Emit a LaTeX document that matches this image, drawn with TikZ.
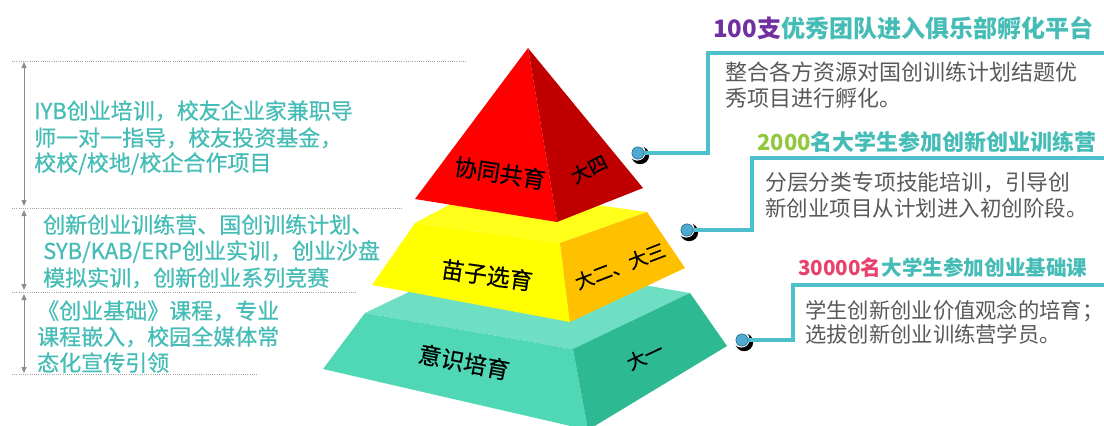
\documentclass[tikz,border=0pt]{standalone}
\usepackage{fontspec}
\setmainfont{Noto Sans CJK SC}
\newfontfamily\medfont[FakeBold=0.6]{Noto Sans CJK SC}
\newfontfamily\lblfont[FakeBold=0.4]{Noto Sans CJK SC}
\usetikzlibrary{arrows.meta}
\definecolor{tealtxt}{HTML}{45BDB6}
\definecolor{linecol}{HTML}{4EC0CB}
\definecolor{bodygray}{HTML}{595959}
\definecolor{purp}{HTML}{7030A0}
\definecolor{lgreen}{HTML}{92C83E}
\definecolor{pinkc}{HTML}{E9416E}
\definecolor{redL}{HTML}{FF0000}
\definecolor{redR}{HTML}{C00000}
\definecolor{yelF}{HTML}{FFFF00}
\definecolor{yelT}{HTML}{FFFF1A}
\definecolor{yelR}{HTML}{FFC000}
\definecolor{grT}{HTML}{6FDFC3}
\definecolor{grF}{HTML}{50D8B6}
\definecolor{grR}{HTML}{2DB991}
\definecolor{dotblue}{HTML}{4DAAD3}
\definecolor{arrgray}{HTML}{8C8C8C}
\newcommand\myfs[1]{\fontsize{#1}{#1}\selectfont}
\tikzset{
  lefttxt/.style={anchor=base west, inner sep=0pt, text=tealtxt, font=\medfont\myfs{22}},
  bodytxt/.style={anchor=base west, inner sep=0pt, text=bodygray, font=\myfs{22}},
  titletxt/.style={anchor=base west, inner sep=0pt, text=tealtxt, font=\myfs{22}\bfseries},
  pyrlbl/.style={inner sep=0pt, text=black, font=\lblfont\myfs{23}},
  yearlbl/.style={inner sep=0pt, text=black, font=\lblfont\myfs{19}},
  dotline/.style={draw=arrgray!80, line width=1pt, dash pattern=on 1pt off 1.2pt},
  spanarrow/.style={draw=arrgray, line width=1pt, {Triangle[length=6pt,width=5pt]}-{Triangle[length=6pt,width=5pt]}},
  conn/.style={draw=linecol, line width=4pt},
  dotc/.style={circle, fill=dotblue, draw=dotblue!70!black, line width=0.6pt, minimum size=12pt, inner sep=0pt},
}
\begin{document}
\begin{tikzpicture}[x=1pt,y=-1pt]
\useasboundingbox (0,0) rectangle (1104,426);
\fill[white] (0,0) rectangle (1104,426);
\begin{scope}
\clip (0,0) rectangle (1104,426);
% green layer
\fill[grT] (365,313) -- (573,349) -- (690,293) -- (482,257) -- cycle;
\fill[grF] (365,313) -- (573,349) -- (588,430) -- (323,369) -- cycle;
\fill[grR] (573,349) -- (690,293) -- (727,346) -- (588,430) -- cycle;
% yellow layer
\fill[yelT] (415,223) -- (560,243) -- (647,212) -- (479,189) -- cycle;
\fill[yelF] (415,223) -- (560,243) -- (570,322) -- (372,285) -- cycle;
\fill[yelR] (560,243) -- (647,212) -- (685,268) -- (570,322) -- cycle;
% red top
\fill[redL] (528,48) -- (415,199) -- (557,222) -- cycle;
\fill[redR] (528,48) -- (557,222) -- (643,188) -- cycle;
\end{scope}

% pyramid labels
\node[pyrlbl, rotate=-9] (l4) at (500,173) {协同共育};
\node[yearlbl, rotate=27] (y4) at (589,169) {大四};
\node[pyrlbl, rotate=-8] (l23) at (487,275) {苗子选育};
\node[yearlbl, rotate=21] (y23) at (620,266) {大二、大三};
\node[pyrlbl, rotate=-11] (l1) at (464,362) {意识培育};
\node[yearlbl, rotate=25] (y1) at (645,356) {大一};

% left dotted lines
\coordinate (d1a) at (12,61);  \coordinate (d1b) at (467,61);
\coordinate (d2a) at (12,208); \coordinate (d2b) at (402,208);
\coordinate (d3a) at (12,292); \coordinate (d3b) at (357,292);
\coordinate (d4a) at (12,374); \coordinate (d4b) at (258,374);
\draw[dotline] (d1a) -- (d1b);
\draw[dotline] (d2a) -- (d2b);
\draw[dotline] (d3a) -- (d3b);
\draw[dotline] (d4a) -- (d4b);
\coordinate (a1t) at (24,62);  \coordinate (a1b) at (24,206);
\coordinate (a2t) at (24,210); \coordinate (a2b) at (24,290);
\coordinate (a3t) at (24,294); \coordinate (a3b) at (24,373);
\draw[spanarrow] (a1t) -- (a1b);
\draw[spanarrow] (a2t) -- (a2b);
\draw[spanarrow] (a3t) -- (a3b);

% left texts
\node[lefttxt] (t11) at (34,119) {IYB创业培训，校友企业家兼职导};
\node[lefttxt] (t12) at (34,146) {师一对一指导，校友投资基金，};
\node[lefttxt] (t13) at (34,171) {校校/校地/校企合作项目};
\node[lefttxt] (t21) at (43,233) {创新创业训练营、国创训练计划、};
\node[lefttxt] (t22) at (43,259) {SYB/KAB/ERP创业实训，创业沙盘};
\node[lefttxt] (t23) at (43,286) {模拟实训，创新创业系列竞赛};
\node[lefttxt] (t31) at (37,319) {《创业基础》课程，专业};
\node[lefttxt] (t32) at (37,345) {课程嵌入，校园全媒体常};
\node[lefttxt] (t33) at (37,371) {态化宣传引领};

% connector dots with shadows
\foreach \p/\n in {{(638,153)}/c1, {(687,230)}/c2, {(742,340)}/c3}{
  \fill[black] \p ++(2.2,2.2) circle (9pt);
  \fill[white] \p ++(-0.6,-0.6) circle (8.2pt);
}
\coordinate (k1a) at (708,153); \coordinate (k1b) at (708,53); \coordinate (k1c) at (1104,53);
\coordinate (k2a) at (752,230); \coordinate (k2b) at (752,158); \coordinate (k2c) at (1104,158);
\coordinate (k3a) at (793,340); \coordinate (k3b) at (793,285); \coordinate (k3c) at (1104,285);
\node[dotc] (c1) at (638,153) {};
\node[dotc] (c2) at (687,230) {};
\node[dotc] (c3) at (742,340) {};
\draw[conn] (c1.center) -- (k1a) -- (k1b) -- (k1c);
\draw[conn] (c2.center) -- (k2a) -- (k2b) -- (k2c);
\draw[conn] (c3.center) -- (k3a) -- (k3b) -- (k3c);
\node[dotc] at (c1) {};
\node[dotc] at (c2) {};
\node[dotc] at (c3) {};

% right titles
\node[titletxt, font=\myfs{24}\bfseries] (h1) at (713,37) {\textcolor{purp}{100支}优秀团队进入俱乐部孵化平台};
\node[titletxt] (h2) at (757,150) {\textcolor{lgreen}{2000}名大学生参加创新创业训练营};
\node[titletxt, font=\myfs{20.6}\bfseries] (h3) at (798,275) {\textcolor{pinkc}{30000名}大学生参加创业基础课};
% right bodies
\node[bodytxt] (b11) at (725,80) {整合各方资源对国创训练计划结题优};
\node[bodytxt] (b12) at (725,106) {秀项目进行孵化。};
\node[bodytxt, font=\myfs{21.8}] (b21) at (765,190) {分层分类专项技能培训，引导创};
\node[bodytxt, font=\myfs{21.5}] (b22) at (765,216) {新创业项目从计划进入初创阶段。};
\node[bodytxt, font=\myfs{21.3}] (b31) at (805,318) {学生创新创业价值观念的培育；};
\node[bodytxt, font=\myfs{21.3}] (b32) at (805,342) {选拔创新创业训练营学员。};
\end{tikzpicture}
\end{document}
